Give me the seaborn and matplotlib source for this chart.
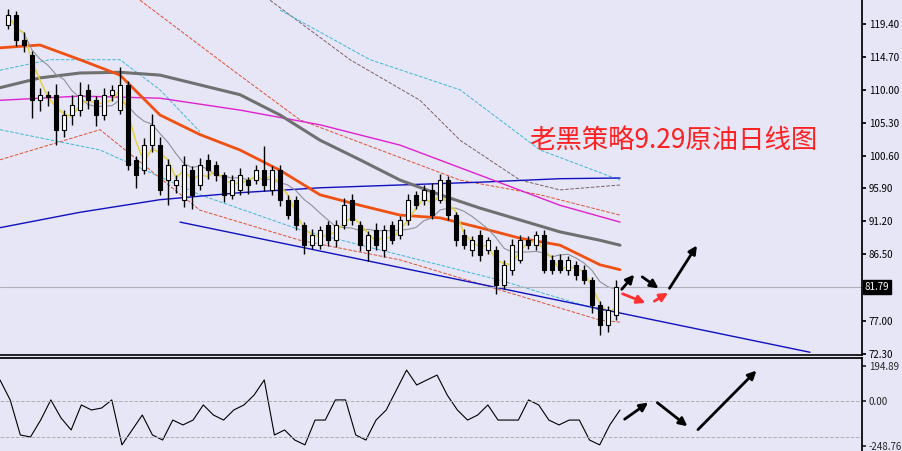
import matplotlib
matplotlib.use("Agg")
import matplotlib.pyplot as plt
import seaborn as sns
import numpy as np
import pandas as pd

sns.set_theme(style="white")
plt.rcParams['font.family'] = ['Noto Sans CJK SC', 'DejaVu Sans']

opens = [119.3,120.7,117.1,115.0,108.5,109.3,109.3,104.3,106.4,107.1,110.0,108.5,106.4,109.3,107.1,110.7,100.0,98.5,102.1,102.1,
         97.1,96.4,94.3,98.5,96.4,100.0,99.3,97.8,95.0,95.7,97.1,97.1,98.5,95.7,98.5,94.3,94.3,90.7,87.8,87.8,
         90.7,88.5,90.7,94.3,90.7,87.1,90.0,87.1,90.7,89.3,91.4,95.0,94.3,95.7,94.3,97.1,92.1,89.3,87.1,89.3,
         87.1,87.1,82.1,84.3,85.7,88.5,87.8,89.3,85.7,85.7,84.3,85.0,84.3,82.8,79.3,76.4,77.8]
closes = [120.7,117.1,116.4,108.5,109.3,109.0,104.3,106.4,107.8,109.3,108.5,106.4,109.3,110.0,110.7,99.3,97.8,102.1,105.0,95.7,
          99.3,97.1,99.3,95.0,99.3,98.5,97.8,95.0,97.1,97.8,96.4,98.5,96.4,98.5,94.3,92.1,90.7,87.8,89.3,90.0,
          88.5,90.7,93.5,91.4,87.8,89.3,87.8,90.0,88.5,91.4,94.3,93.5,95.7,92.1,97.1,92.1,88.5,87.8,88.5,86.4,
          88.5,82.1,85.0,87.8,88.5,87.8,89.3,84.3,84.3,84.3,85.7,83.5,82.8,79.3,76.4,78.5,81.79]
up_wick = [0.8,0.5,1.2,0.6,1.0,0.5,1.5,0.7,1.4,1.8,0.8,0.6,1.0,0.7,2.5,0.5,0.6,1.0,1.5,1.2,
           0.8,0.7,1.2,0.6,0.9,0.8,0.5,0.4,0.7,1.0,0.5,0.8,3.5,0.6,0.7,0.6,0.5,0.4,0.8,0.6,
           0.6,0.7,1.0,0.8,0.6,0.5,0.9,0.7,0.6,0.5,0.8,0.5,0.7,1.0,0.8,0.6,0.5,0.8,0.6,0.7,
           0.5,0.6,0.7,0.9,0.8,0.6,0.5,0.6,0.7,0.8,0.6,0.5,0.6,0.4,0.5,0.6,1.0]
dn_wick = [0.6,0.8,1.0,2.5,1.6,1.3,2.2,1.0,1.5,0.8,1.2,1.6,0.7,0.9,0.6,0.8,1.8,0.6,1.0,0.7,
           3.5,1.2,1.0,2.0,0.7,1.2,0.8,1.0,0.6,0.8,1.3,0.6,0.8,0.7,0.9,0.6,0.8,1.2,0.6,0.5,
           0.8,1.0,0.6,0.7,0.9,1.6,0.7,1.0,0.5,0.6,0.7,0.5,0.8,0.6,0.5,0.7,0.8,0.6,0.8,0.9,
           0.5,1.3,0.6,0.8,0.5,0.6,0.7,0.5,0.6,0.5,0.8,0.7,0.6,1.2,1.4,1.0,0.7]

ma_idx = [-1,4,9,14,19,24,29,34,39,44,49,54,59,64,69,74,76.5]
ema_orange = [116.0,116.4,114.3,112.1,106.4,103.6,101.4,98.5,95.0,93.5,92.1,91.7,90.3,88.8,87.8,85.0,84.3]
ma_gray = [110.3,111.7,112.4,112.5,112.1,110.7,109.3,106.4,102.8,100.0,97.1,95.0,93.1,91.4,89.7,88.5,87.8]
pink_idx = [-1,9,19,29,39,49,59,69,76.5]
ma_pink = [108.5,109.1,108.8,107.1,105.0,102.1,97.8,93.5,91.1]
ma_blue = [90.3,92.5,94.3,95.3,96.0,96.4,96.8,97.3,97.4]

gray_up_idx = [32.75,42.75,51.5,56.5,64,69,76.5]
gray_up = [122.8,114.3,108.5,102.8,97.1,95.7,96.4]
red_up_idx = [16.5,28.1,36.5,46.5,56.5,66.5,76.5]
red_up = [122.8,112.8,105.7,101.4,97.1,95.0,92.1]
cyan_up_idx = [34,45.25,56.5,66.5,76.5]
cyan_up = [121.4,114.3,110.0,101.4,97.1]
cyan_up2_idx = [-1,5.25,14,19,24]
cyan_up2 = [112.8,114.3,114.3,110.0,104.0]
low_idx = [-1,11.5,24,36.5,49,61.5,74,76.5]
red_low = [100.0,104.3,92.8,88.5,85.7,81.4,77.1,76.8]
cyan_low = [104.3,101.4,95.0,90.0,86.4,82.8,78.5,78.3]

cci = [117,6,-189,-200,-106,6,-94,-161,-22,-50,-39,6,-244,-161,-78,-189,-217,-106,-133,-106,
       -22,-78,-106,-50,-22,33,117,-189,-161,-217,-244,-106,-106,6,6,-189,-217,-106,-50,61,
       172,89,117,144,33,-50,-106,-78,-22,-106,-106,-106,6,-22,-106,-133,-106,-106,-217,-244,
       -133,-50]
cci_idx = list(np.linspace(-1, 76.5, len(cci)))
last_price = 81.79

bg = '#E6E6F7'
fig = plt.figure(figsize=(9.03, 4.51), dpi=100, facecolor=bg)
ax = fig.add_axes([0, (451-355)/451, 862/903, 355/451], facecolor=bg)
ax2 = fig.add_axes([0, 0, 862/903, 93/451], facecolor=bg)

n = len(closes)
idx = np.arange(n)
df = pd.DataFrame({'i': idx, 'o': opens, 'c': closes})
df['h'] = np.maximum(df.o, df.c) + np.array(up_wick)
df['l'] = np.minimum(df.o, df.c) - np.array(dn_wick)
s = df.c

ax.plot(gray_up_idx, gray_up, color='#806060', ls='--', lw=0.7)
ax.plot(red_up_idx, red_up, color='#e05030', ls='--', lw=0.7)
ax.plot(cyan_up_idx, cyan_up, color='#40b8d8', ls='--', lw=0.7)
ax.plot(cyan_up2_idx, cyan_up2, color='#40b8d8', ls='--', lw=0.7)
ax.plot(low_idx, red_low, color='#e05030', ls='--', lw=0.7)
ax.plot(low_idx, cyan_low, color='#40b8d8', ls='--', lw=0.7)

sns.lineplot(x=pink_idx, y=ma_blue, ax=ax, color='#1010c0', lw=1.0)
sns.lineplot(x=pink_idx, y=ma_pink, ax=ax, color='#e020d0', lw=1.0)
sns.lineplot(x=ma_idx, y=ma_gray, ax=ax, color='#707070', lw=2.2)
sns.lineplot(x=ma_idx, y=ema_orange, ax=ax, color='#f05010', lw=2.0)
ax.plot(idx, s.rolling(8, min_periods=1).mean(), color='#909098', lw=0.8)
ax.plot(idx, s.rolling(3, min_periods=1).mean(), color='#e8d040', lw=1.1)

for r in df.itertuples():
    ax.vlines(r.i, r.l, r.h, color='black', lw=1.0, zorder=3)
    lo, hi = min(r.o, r.c), max(r.o, r.c)
    fc = 'white' if r.c >= r.o else 'black'
    ax.bar(r.i, max(hi - lo, 0.15), bottom=lo, width=0.6, color=fc, edgecolor='black', lw=0.8, zorder=4)

ax.plot([21.5, 100.25], [91.1, 72.5], color='#1010c0', lw=1.0)
ax.axhline(last_price, color='#b0b0b8', lw=0.8)

ax.set_xlim(-1, 106.75)
ax.set_ylim(72.11, 122.83)
ticks = [119.40,114.70,110.00,105.30,100.60,95.90,91.20,86.50,77.00,72.30]
ax.yaxis.tick_right()
ax.set_yticks(ticks)
ax.set_yticklabels([f'{t:.2f}' for t in ticks])
ax.tick_params(axis='y', direction='out', length=3, labelsize=7, pad=2, colors='black')
ax.tick_params(axis='x', length=0, labelbottom=False)
for sp in ['top', 'left']:
    ax.spines[sp].set_visible(False)
ax.spines['right'].set_color('black')
ax.spines['bottom'].set_color('black'); ax.spines['bottom'].set_linewidth(1.2)
ax.text(1.003, last_price, f'{last_price:.2f}', transform=ax.get_yaxis_transform(), fontsize=7,
        color='white', va='center', ha='left', bbox=dict(boxstyle='square,pad=0.2', fc='black', ec='black'))
ax.text(65.2, 102.8, '老黑策略9.29原油日线图', color='#ff2020', fontsize=19, ha='left', va='center')

def arr(a, p0, p1, c):
    a.annotate('', xy=p1, xytext=p0, arrowprops=dict(arrowstyle='-|>', color=c, lw=2, mutation_scale=12))
arr(ax, (76.5, 81.2), (78.5, 83.9), 'black')
arr(ax, (79.0, 83.5), (81.6, 81.4), 'black')
arr(ax, (76.5, 81.0), (80.0, 79.4), '#ff3030')
arr(ax, (80.5, 79.6), (82.8, 81.2), '#ff3030')
arr(ax, (82.5, 81.3), (86.3, 88.1), 'black')

sns.lineplot(x=cci_idx, y=cci, ax=ax2, color='black', lw=0.8)
ax2.axhline(0, color='#b0b0b0', ls='--', lw=0.7)
ax2.axhline(-200, color='#b0b0b0', ls='--', lw=0.7)
ax2.set_xlim(-1, 106.75)
ax2.set_ylim(-278, 239)
ax2.yaxis.tick_right()
ax2.set_yticks([194.89, 0, -248.76])
ax2.set_yticklabels(['194.89', '0.00', '-248.76'])
ax2.tick_params(axis='y', direction='out', length=3, labelsize=7, pad=2)
ax2.tick_params(axis='x', length=0, labelbottom=False)
for sp in ['left', 'bottom']:
    ax2.spines[sp].set_visible(False)
ax2.spines['right'].set_color('black')
ax2.spines['top'].set_color('black')
arr(ax2, (76.8, -110), (80.3, 0), 'black')
arr(ax2, (80.9, 0), (85.2, -150), 'black')
arr(ax2, (86.0, -170), (93.8, 180), 'black')

fig.savefig('out.png', dpi=100, facecolor=bg)
